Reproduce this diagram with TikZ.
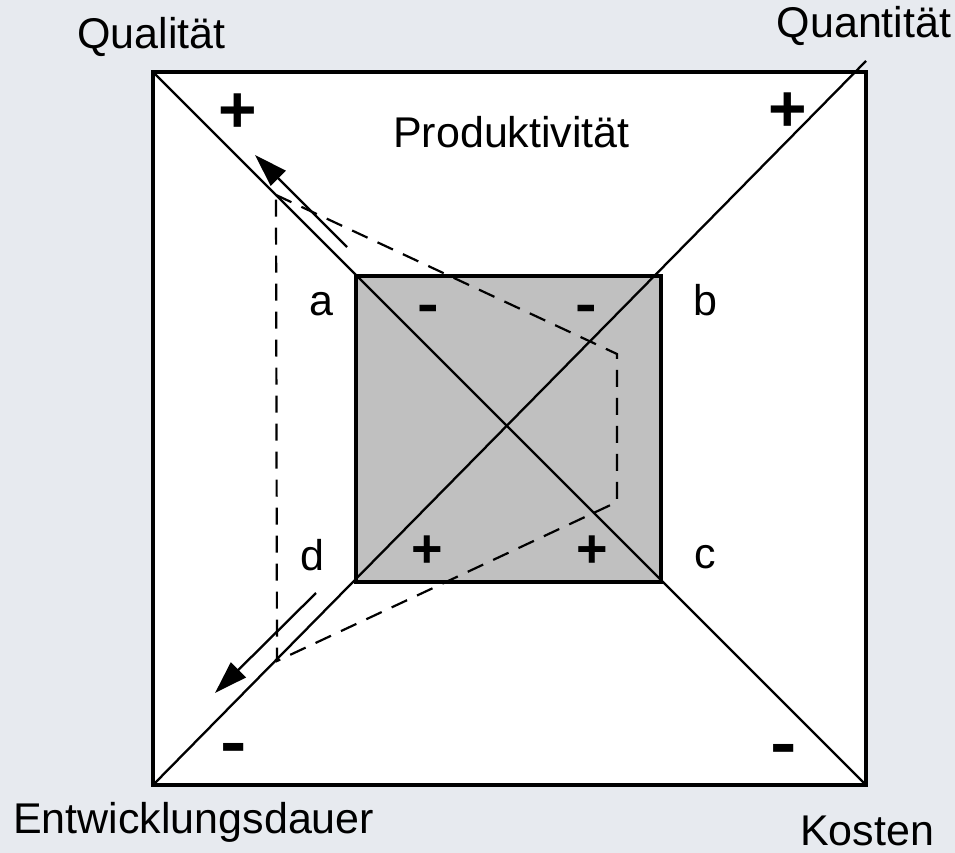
\documentclass[tikz,border=0pt]{standalone}
\usepackage{fontspec}
\setmainfont{Liberation Sans}
\usetikzlibrary{arrows.meta}
\definecolor{bgcol}{RGB}{231,234,239}
\definecolor{innergray}{RGB}{192,192,192}
\begin{document}
\begin{tikzpicture}[x=1pt,y=-1pt,
  lbl/.style={font=\fontsize{43}{50}\selectfont, inner sep=0pt, anchor=base},
  sgnbig/.style={font=\fontsize{66}{70}\selectfont\bfseries, inner sep=0pt, anchor=base},
  sgnsmall/.style={font=\fontsize{54}{60}\selectfont\bfseries, inner sep=0pt, anchor=base},
  minusbig/.style={sgnbig, xscale=1.2},
  minussmall/.style={sgnsmall, xscale=1.2},
  frame/.style={line width=3.2pt},
  diag/.style={line width=2.3pt},
  dashpath/.style={line width=2.2pt, dash pattern=on 17pt off 11pt},
  arr/.style={line width=2.3pt, -{Triangle[length=33pt,width=21pt]}},
]
% background and page size
\fill[bgcol] (0,0) rectangle (955,853);
\useasboundingbox (0,0) rectangle (955,853);

% corners
\coordinate (OTL) at (153,72);
\coordinate (OTR) at (866,72);
\coordinate (OBR) at (866,785);
\coordinate (OBL) at (153,785);
\coordinate (QEnd) at (866,61);
\coordinate (ITL) at (356,276);
\coordinate (IBR) at (661,582);

% outer square
\draw[frame, fill=white] (OTL) rectangle (OBR);
% inner square fill
\fill[innergray] (ITL) rectangle (IBR);

% diagonals
\draw[diag] (OTL) -- (OBR);
\draw[diag] (OBL) -- (QEnd);

% inner square border
\draw[frame] (ITL) rectangle (IBR);

% dashed quadrilateral
\coordinate (P1) at (276,195);
\coordinate (P2) at (617,354);
\coordinate (P3) at (617,502);
\coordinate (P4) at (277,661);
\draw[dashpath] (P1) -- (P2) -- (P3) -- (P4) -- cycle;

% arrows
\coordinate (A1s) at (347,247);
\coordinate (A1e) at (255,155);
\coordinate (A2s) at (316,593);
\coordinate (A2e) at (215,693);
\draw[arr] (A1s) -- (A1e);
\draw[arr] (A2s) -- (A2e);

% labels
\node[lbl] (qual) at (151.5,49) {Qualität};
\node[lbl] (quant) at (864,38) {Quantität};
\node[lbl] (prod) at (511.5,148) {Produktivität};
\node[lbl, anchor=base west] (entw) at (13,833) {Entwicklungsdauer};
\node[lbl, anchor=base west] (kost) at (800,845) {Kosten};

\node[lbl] (la) at (321,315) {a};
\node[lbl] (lb) at (705,315) {b};
\node[lbl] (lc) at (705,568) {c};
\node[lbl] (ld) at (312.5,570) {d};

% signs
\node[sgnbig] (p1) at (238,133) {+};
\node[sgnbig] (p2) at (788,132) {+};
\node[sgnsmall] (p3) at (427,567) {+};
\node[sgnsmall] (p4) at (592,567) {+};
\node[minusbig] (m1) at (234,764) {-};
\node[minusbig] (m2) at (784,765) {-};
\node[minussmall] (m3) at (428,322) {-};
\node[minussmall] (m4) at (586,322) {-};
\end{tikzpicture}
\end{document}
